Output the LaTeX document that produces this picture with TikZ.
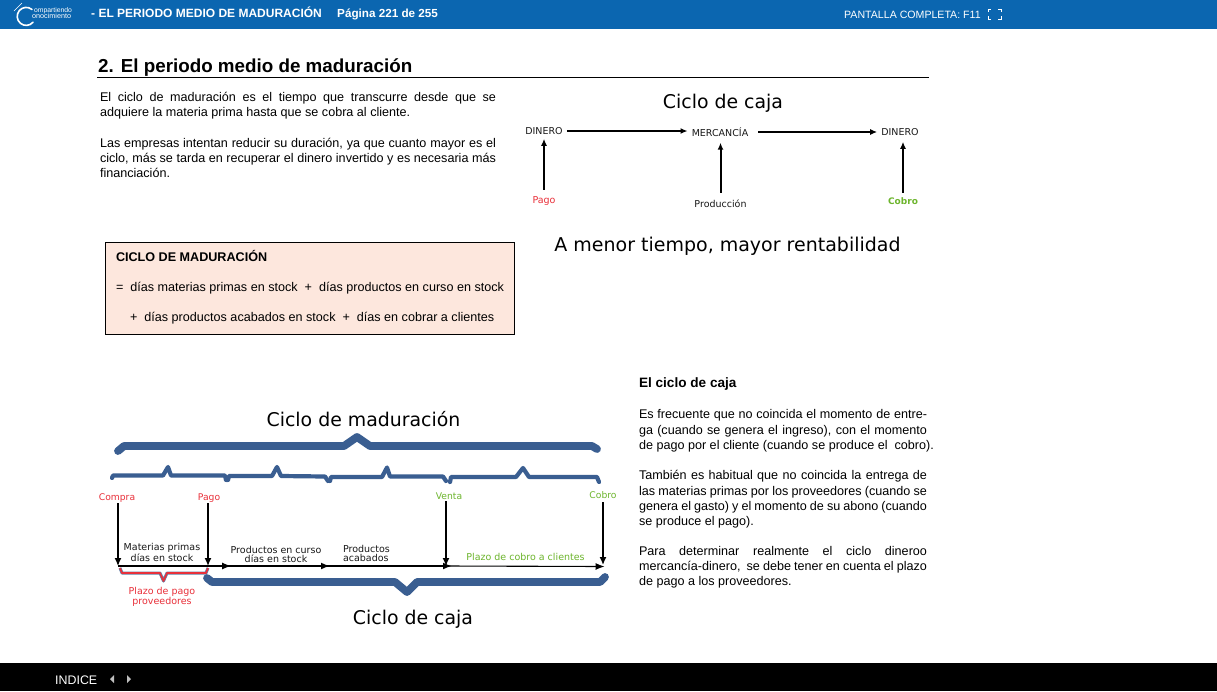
\documentclass[tikz,border=0pt]{standalone}
\usepackage{fontspec}
\setmainfont{Liberation Sans}
\newfontfamily\verd{DejaVu Sans}
\usetikzlibrary{arrows.meta}
\definecolor{barblue}{HTML}{0B66B0}
\definecolor{brace}{HTML}{3A5E91}
\definecolor{boxfill}{HTML}{FDE7DD}
\definecolor{redlab}{HTML}{E9303A}
\definecolor{greenlab}{HTML}{6DB52D}
\newcommand{\fsz}[1]{\fontsize{#1}{#1}\selectfont}
\newcommand{\jline}[5]{\node[txt] (#1) at (#2,#3) {\makebox[#4pt][s]{#5}};}
\newcommand{\pline}[4]{\node[txt] (#1) at (#2,#3) {#4};}
\tikzset{
  x=1pt,y=-1pt,
  txt/.style={anchor=base west,inner sep=0pt,outer sep=0pt,font=\fsz{12.6}\color{black}},
  bartext/.style={anchor=base west,inner sep=0pt,text=white},
  title/.style={inner sep=0pt,font=\verd\fsz{18.9},text=black},
  lab/.style={inner sep=4pt,font=\verd\fsz{9.5},text=black!90},
  clab/.style={inner sep=0pt,font=\verd\fsz{9.2}},
  small/.style={inner sep=0pt,font=\verd\fsz{9.5},text=black!90,align=center},
  arr/.style={-{Latex[length=7pt,width=6pt]},line width=2pt,black},
  varr/.style={-{Latex[length=7pt,width=6pt]},line width=2pt,black},
  varb/.style={-{Latex[length=8pt,width=7pt]},line width=1.4pt,black},
  tl/.style={-{Latex[length=9pt,width=7pt]},line width=1.1pt,black},
  tlk/.style={-{Latex[length=9pt,width=7pt]},line width=2pt,black},
  bigbrace/.style={draw=brace,line width=7.8pt,line cap=round,line join=round},
  medbrace/.style={draw=brace,line width=4.2pt,line cap=round,line join=round},
}
\begin{document}
\begin{tikzpicture}
\useasboundingbox (0,0) rectangle (1217,691);
\fill[white] (0,0) rectangle (1217,691);
% bars
\fill[barblue] (0,0) rectangle (1217,29);
\fill[black] (0,663) rectangle (1217,691);
% logo
\draw[white,line width=1.6pt,line cap=round] (32,9.5) arc[start angle=-50,end angle=-320,radius=9];
\draw[white,line width=.5pt] (14,11) -- (22,3);
\node[bartext,font=\fsz{6.8}] (logoa) at (34,12) {ompartiendo};
\node[bartext,font=\fsz{7.2}] (logob) at (32,18.5) {onocimiento};
\node[bartext,font=\bfseries\fsz{12}] (htitle) at (91,17) {- EL PERIODO MEDIO DE MADURACIÓN};
\node[bartext,font=\bfseries\fsz{11.7}] (hpage) at (337,17) {Página 221 de 255};
\node[bartext,font=\fsz{10.6}] (hfull) at (844,18) {PANTALLA COMPLETA: F11};
\draw[white,line width=.9pt] (988,12) -- (988,9) -- (991,9) (998,9) -- (1001,9) -- (1001,12) (1001,16) -- (1001,19) -- (998,19) (991,19) -- (988,19) -- (988,16);
\node[bartext,font=\fsz{12.4}] (indice) at (55,684) {INDICE};
\fill[white!75!black] (114,675) -- (110,679) -- (114,683) -- cycle;
\fill[white!75!black] (127,675) -- (131,679) -- (127,683) -- cycle;
% heading
\node[anchor=base west,inner sep=0pt,font=\bfseries\fsz{18.8}] (head) at (98,72) {2. El periodo medio de maduración};
\draw[black,line width=1pt] (97,77.5) -- (929,77.5);
% left text
\jline{la}{100}{101.5}{396}{El ciclo de maduración es el tiempo que transcurre desde que se}
\pline{lb}{100}{116.5}{adquiere la materia prima hasta que se cobra al cliente.}
\jline{lc}{100}{147.5}{396}{Las empresas intentan reducir su duración, ya que cuanto mayor es el}
\jline{ld}{100}{162.5}{396}{ciclo, más se tarda en recuperar el dinero invertido y es necesaria más}
\pline{le}{100}{177.5}{financiación.}
% top cycle
\node[title] (tcaja) at (723,103.5) {Ciclo de caja};
\node[lab] (din1) at (544,131) {DINERO};
\node[lab] (merc) at (720,132) {MERCANCÍA};
\node[lab] (din2) at (900,132) {DINERO};
\node[lab,text=redlab] (pago1) at (544,201.5) {Pago};
\node[lab] (prod1) at (720.5,204) {Producción};
\node[lab,font=\verd\bfseries\fsz{9},text=greenlab] (cobro1) at (903,201.5) {Cobro};
\draw[arr] (din1) -- (din1 -| merc.west);
\draw[arr,shorten <=6pt] (merc) -- (din2);
\draw[varr,shorten <=3pt,shorten >=0pt] (pago1.north) -- (pago1.north |- din1.south);
\draw[varr,shorten <=3pt,shorten >=2pt] (prod1.north) -- (prod1.north |- merc.south);
\draw[varr,shorten <=1pt,shorten >=2pt] (cobro1.north) -- (cobro1.north |- din2.south);
\node[inner sep=0pt,font=\verd\fsz{19}] (amenor) at (727.5,246) {A menor tiempo, mayor rentabilidad};
% formula box
\node[draw=black,line width=.8pt,fill=boxfill,minimum width=409.5pt,minimum height=92pt,inner sep=0pt] (fbox) at (309.75,288) {};
\node[txt,font=\bfseries\fsz{12.6}] (fa) at (116,261.5) {CICLO DE MADURACIÓN};
\pline{fb}{116}{291.5}{=\ \ días materias primas en stock\ \ +\ \ días productos en curso en stock}
\pline{fc}{130}{321.5}{+\ \ días productos acabados en stock\ \ +\ \ días en cobrar a clientes}
% bottom diagram
\node[title] (tmad) at (363.5,419) {Ciclo de maduración};
\path[bigbrace] (118,451) -- (124,446) -- (344,446) -- (357,437) -- (370,446) -- (592,446) -- (597,449);
\path[medbrace] (112,478) -- (113,475.5) -- (163,475.5) -- (168,467) -- (171,475.5) -- (225,475.5) -- (226,480);
\path[medbrace] (228,480) -- (229,476) -- (272,476) -- (277,467) -- (281,476) -- (325,476.5) -- (328,481);
\path[medbrace] (330,481) -- (331,477) -- (382,477) -- (387,467.5) -- (390,476.5) -- (443,476.5) -- (446,481);
\path[medbrace] (450,482) -- (451,477) -- (516,477) -- (523,468) -- (529,477) -- (597,477) -- (599,482);
\path[bigbrace] (207,578) -- (212,582) -- (395,582) -- (407,592) -- (417,582) -- (600,582) -- (605,577);
% red brace
\path[draw=brace!80,line width=3pt,line join=round] (120,568) -- (122,573) -- (160,573) -- (163.5,581) -- (167,573) -- (206,573) -- (208,568);
\path[draw=redlab,line width=1.6pt,line join=round] (120,568) -- (122,573) -- (160,573) -- (163.5,581) -- (167,573) -- (206,573) -- (208,568);
% labels
\node[clab,text=redlab] (compra) at (117,498) {Compra};
\node[clab,text=redlab] (pago2) at (209,498) {Pago};
\node[clab,text=greenlab] (venta) at (449,496) {Venta};
\node[clab,text=greenlab] (cobro2) at (603,495.5) {Cobro};
\coordinate (t0) at (118,566);
\coordinate (t5) at (208,566);
\coordinate (t1) at (231,566);
\coordinate (t1b) at (226,566);
\coordinate (t2) at (330,566);
\coordinate (t2b) at (325,566);
\coordinate (t3) at (452,566);
\coordinate (t3b) at (447,566);
\coordinate (t4) at (604.5,566.5);
\coordinate (v3) at (446,566);
\coordinate (v4) at (603,565);
\coordinate (cs) at (118,503);
\coordinate (ps) at (208,503);
\coordinate (vs) at (446,501);
\coordinate (bs) at (603,502);
\draw[tl] (t0) -- (t1);
\draw[tlk] (t1b) -- (t2);
\draw[tlk] (t2b) -- (t3);
\draw[tl] (t3b) -- (t4);
\draw[varb] (cs) -- (t0);
\draw[varb] (ps) -- (t5);
\draw[varb] (vs) -- (v3);
\draw[varb] (bs) -- (v4);
\node[small] (mp) at (162,552.5) {Materias primas\\[0.3pt]días en stock};
\node[small] (pc) at (276,554.5) {Productos en curso\\[0.3pt]días en stock};
\node[small,align=left] (pa) at (366.5,553.5) {Productos\\[0.3pt]acabados};
\node[small,text=greenlab] (pcc) at (525.5,556.5) {Plazo de cobro a clientes};
\node[small,text=redlab] (ppp) at (162,597) {Plazo de pago\\[0.3pt]proveedores};
\node[title] (bcaja) at (413,619.5) {Ciclo de caja};
% right text
\node[txt,font=\bfseries\fsz{13.6}] (ra) at (639,387.5) {El ciclo de caja};
\jline{rb}{639}{418.5}{288}{Es frecuente que no coincida el momento de entre-}
\jline{rc}{639}{434.5}{288}{ga (cuando se genera el ingreso), con el momento}
\pline{rd}{639}{449.5}{de pago por el cliente (cuando se produce el\ \ cobro).}
\jline{re}{639}{479.5}{288}{También es habitual que no coincida la entrega de}
\jline{rf}{639}{495.5}{288}{las materias primas por los proveedores (cuando se}
\jline{rg}{639}{510.5}{288}{genera el gasto) y el momento de su abono (cuando}
\pline{rh}{639}{525.5}{se produce el pago).}
\jline{ri}{639}{555.5}{288}{Para determinar realmente el ciclo dineroo}
\jline{rj}{639}{570.5}{288}{mercancía-dinero,\ \ se debe tener en cuenta el plazo}
\pline{rk}{639}{585.5}{de pago a los proveedores.}
\end{tikzpicture}
\end{document}
